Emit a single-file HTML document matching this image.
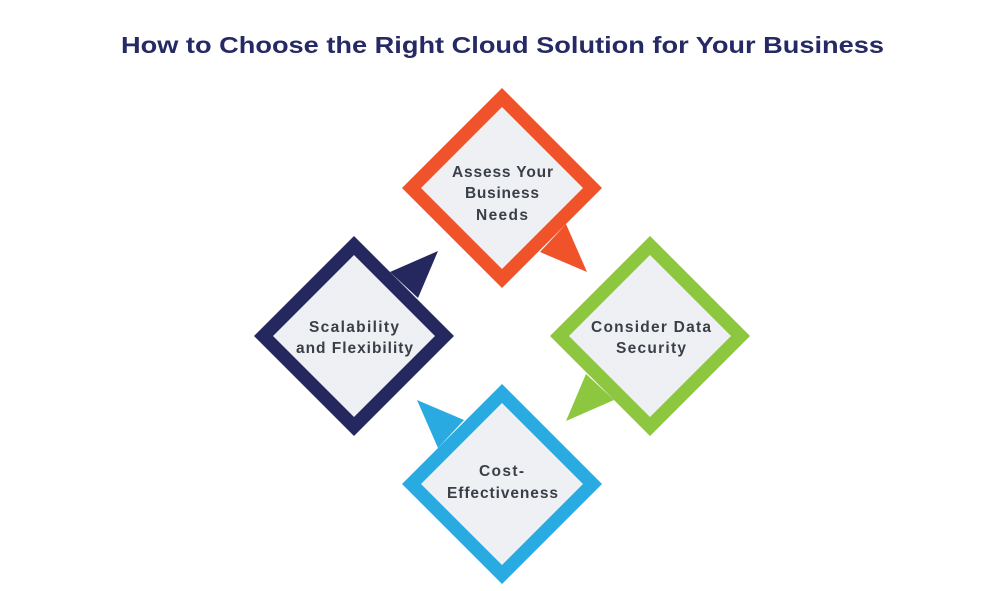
<!DOCTYPE html>
<html><head><meta charset="utf-8"><style>
html,body{margin:0;padding:0;background:#fff;}
svg{display:block;}
text{font-family:"Liberation Sans",sans-serif;font-weight:bold;}
</style></head><body>
<svg width="1004" height="591" viewBox="0 0 1004 591" xmlns="http://www.w3.org/2000/svg">
<rect width="1004" height="591" fill="#fff"/>
<text x="121" y="53" font-size="23" fill="#262a64" textLength="763" lengthAdjust="spacingAndGlyphs">How to Choose the Right Cloud Solution for Your Business</text>
<defs>
<g id="shape">
  <polygon points="0,-100 100,0 0,100 -100,0"/>
  <polygon points="38,64 64,36 85,84"/>
</g>
</defs>
<g transform="translate(502,188)" fill="#f0522a"><use href="#shape"/></g>
<polygon transform="translate(502,188)" points="0,-81 81,0 0,81 -81,0" fill="#eef0f4"/>
<g transform="translate(354,336) rotate(-90)" fill="#25285f"><use href="#shape"/></g>
<polygon transform="translate(354,336)" points="0,-81 81,0 0,81 -81,0" fill="#eef0f4"/>
<g transform="translate(650,336) rotate(90)" fill="#8dc63f"><use href="#shape"/></g>
<polygon transform="translate(650,336)" points="0,-81 81,0 0,81 -81,0" fill="#eef0f4"/>
<g transform="translate(502,484) rotate(180)" fill="#29aae1"><use href="#shape"/></g>
<polygon transform="translate(502,484)" points="0,-81 81,0 0,81 -81,0" fill="#eef0f4"/>

<g font-size="15.5" fill="#3a3f47" lengthAdjust="spacingAndGlyphs">
<text x="452" y="177" textLength="101">Assess Your</text>
<text x="465" y="198" textLength="74">Business</text>
<text x="476" y="220" textLength="52">Needs</text>
<text x="309" y="332" textLength="90">Scalability</text>
<text x="296" y="353" textLength="117">and Flexibility</text>
<text x="591" y="332" textLength="120">Consider Data</text>
<text x="616" y="353" textLength="70">Security</text>
<text x="479" y="476" textLength="45">Cost-</text>
<text x="447" y="498" textLength="111">Effectiveness</text>
</g>
</svg>
</body></html>
